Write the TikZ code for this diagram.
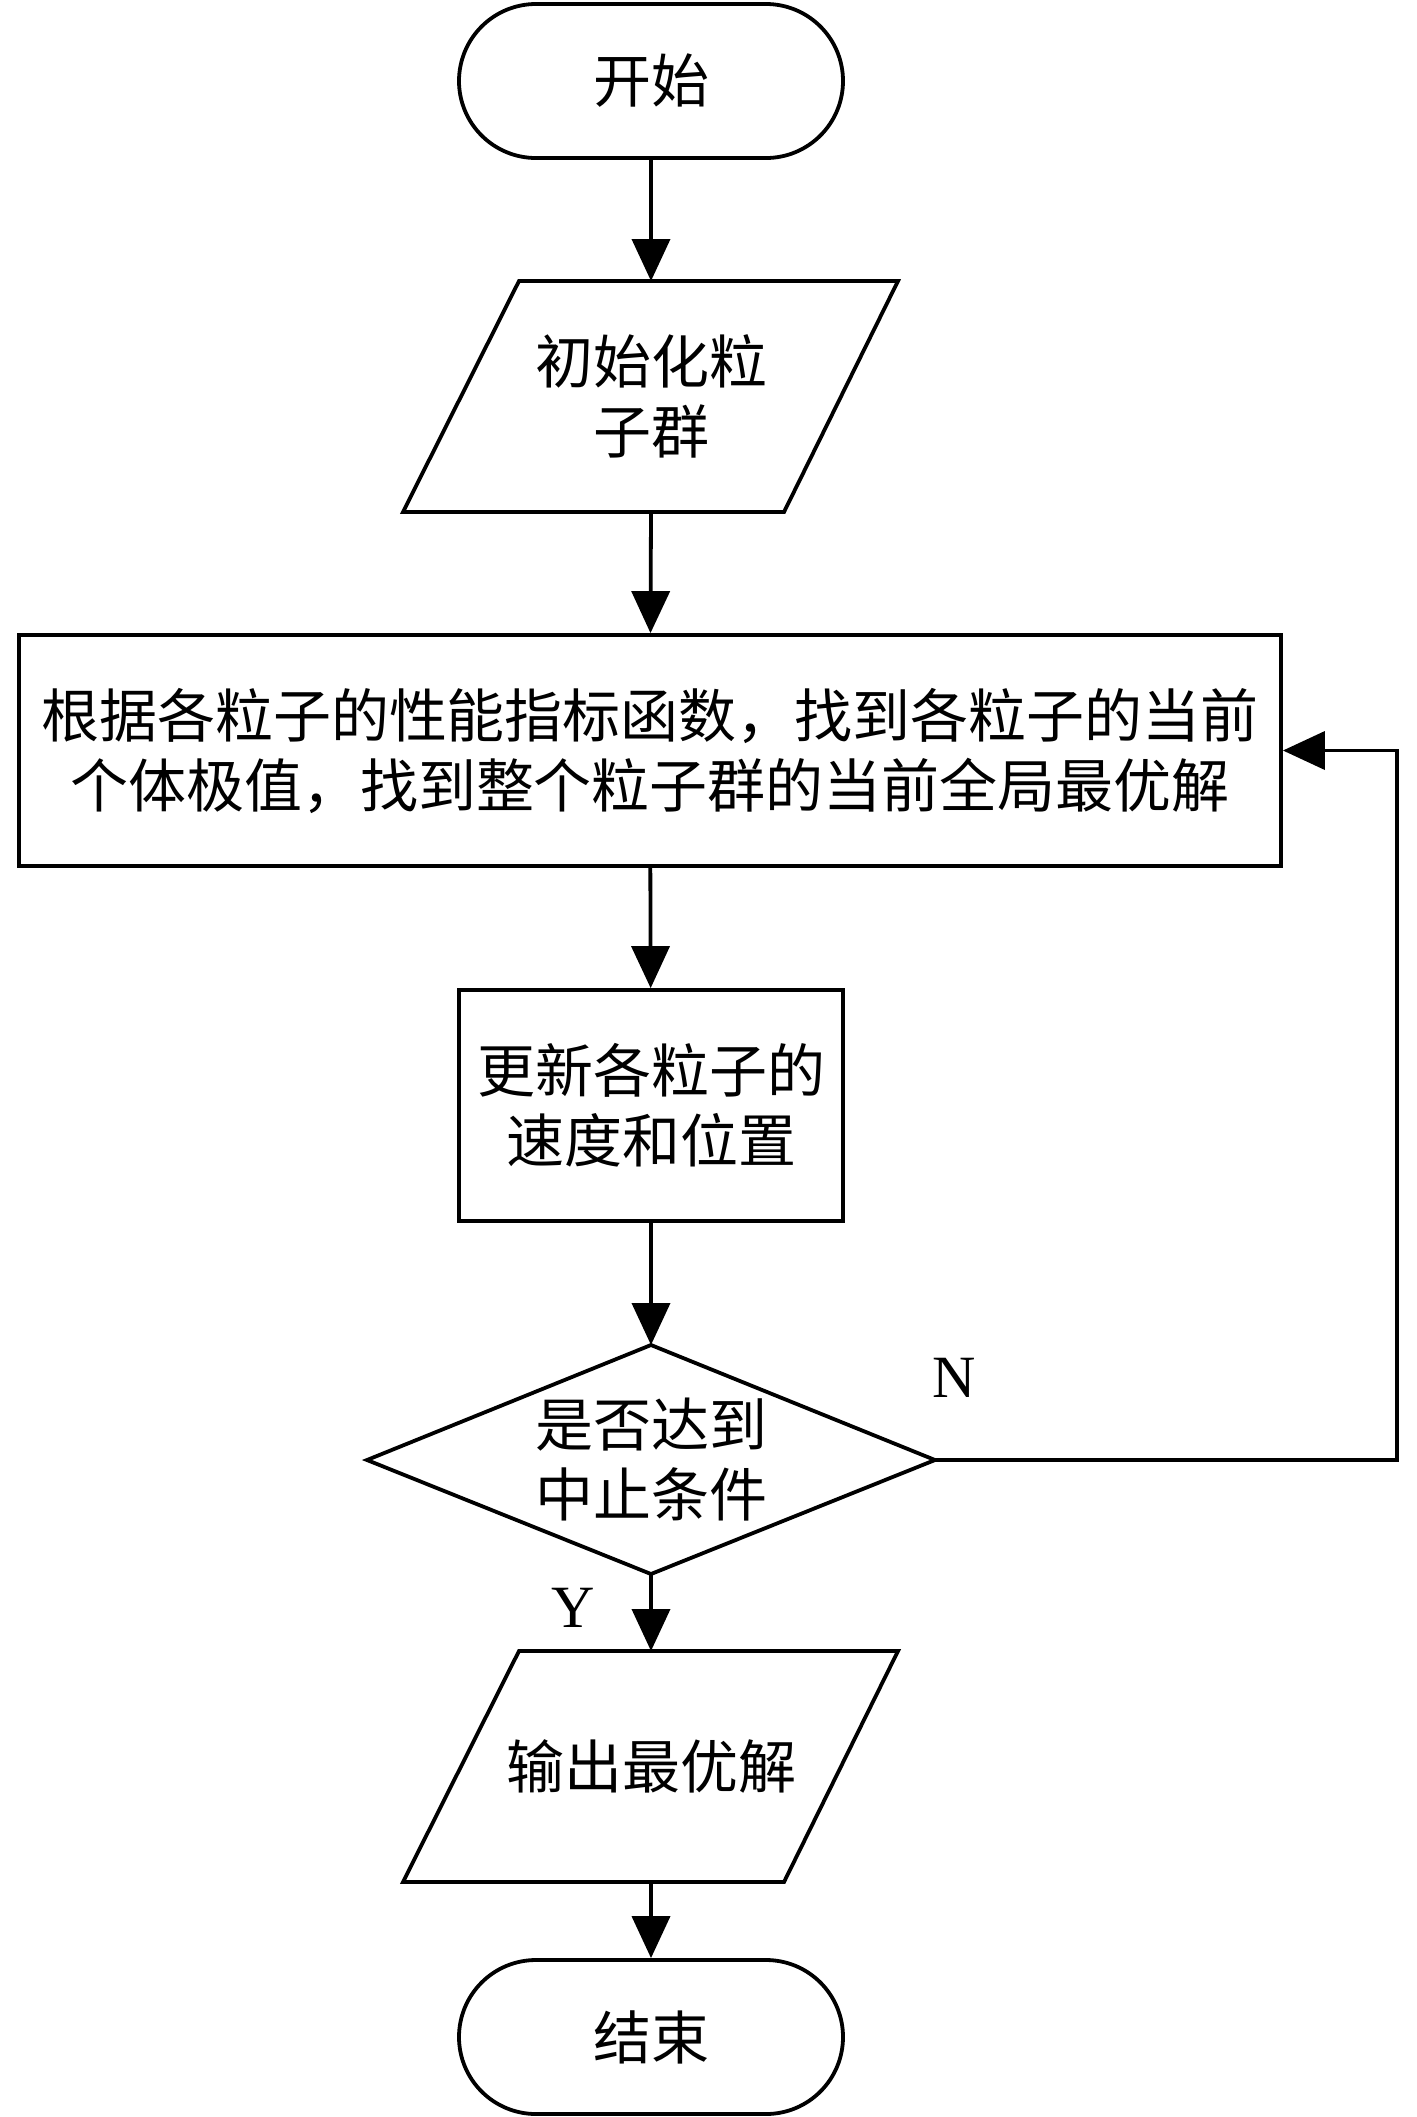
\documentclass[tikz,border=0pt]{standalone}
\usepackage{fontspec}
\setmainfont{Liberation Serif}
\newfontfamily\cjk{Noto Sans CJK SC}
\usetikzlibrary{arrows.meta,shapes.misc}
\tikzset{
  line/.style={line width=1.9pt},
  arr/.style={line width=1.9pt,-{Triangle[width=19pt,length=21pt]}},
  term/.style={draw,line width=1.9pt,rounded rectangle,minimum width=192pt,minimum height=77pt,inner sep=0pt,font=\cjk\fontsize{29pt}{35pt}\selectfont},
  boxnode/.style={draw,line width=1.9pt,inner sep=0pt,align=center,font=\cjk\fontsize{29pt}{35pt}\selectfont},
  txt/.style={inner sep=0pt,align=center,font=\cjk\fontsize{29pt}{35pt}\selectfont},
  lbl/.style={inner sep=0pt,font=\fontsize{30pt}{36pt}\selectfont}
}
\begin{document}
\begin{tikzpicture}[x=0.5pt,y=-0.5pt]
\useasboundingbox (0,0) rectangle (1417,2117);
% start
\node[term] (start) at (651,81) {开始};
% input parallelogram
\node[txt] (init) at (651,396) {初始化粒\\子群};
\coordinate (initT) at (651,281);
\coordinate (initB) at (651,512);
\draw[line,line join=miter] (519,281) -- (898,281) -- (784,512) -- (403,512) -- cycle;
% evaluation box
\node[boxnode,minimum width=631pt,minimum height=115.5pt] (eval) at (650,750.5)
  {根据各粒子的性能指标函数，找到各粒子的当前\\个体极值，找到整个粒子群的当前全局最优解};
% update box
\node[boxnode,minimum width=192pt,minimum height=115.5pt] (upd) at (651,1105.5)
  {更新各粒子的\\速度和位置};
% decision
\node[txt] (dec) at (651,1460) {是否达到\\中止条件};
\coordinate (decT) at (651,1345);
\coordinate (decB) at (651,1574);
\coordinate (decL) at (367,1460);
\coordinate (decR) at (935,1460);
\draw[line,line join=miter] (decL) -- (decT) -- (decR) -- (decB) -- cycle;
% output parallelogram
\node[txt] (out) at (651,1766) {输出最优解};
\coordinate (outT) at (651,1651);
\coordinate (outB) at (651,1882);
\draw[line,line join=miter] (519,1651) -- (898,1651) -- (784,1882) -- (403,1882) -- cycle;
% end
\node[term] (end) at (651,2037) {结束};
% connectors
\draw[arr] (start) -- (initT);
\draw[arr] (initB) -- (eval);
\draw[arr] (eval) -- (upd);
\draw[arr] (upd) -- (decT);
\draw[arr] (decB) -- (outT);
\draw[arr] (outB) -- (end);
\coordinate (fb) at (1397,1460);
\draw[arr] (decR) -- (fb) |- (eval.east);
% labels
\node[lbl] (nlab) at (954,1378) {N};
\node[lbl] (ylab) at (573,1608) {Y};
\end{tikzpicture}
\end{document}
